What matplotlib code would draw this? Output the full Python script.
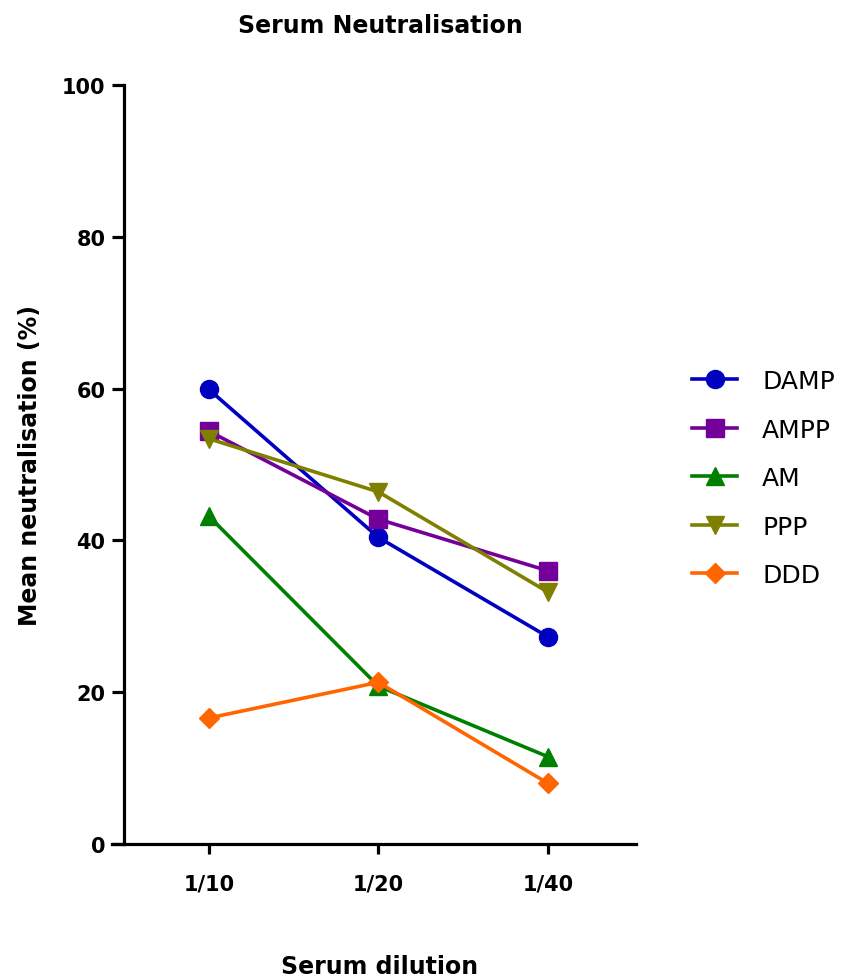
"""Serum neutralisation line chart (GraphPad-style)."""

import matplotlib

matplotlib.use("Agg")
import matplotlib.pyplot as plt

dilutions = ["1/10", "1/20", "1/40"]

damp = [59.9, 40.4, 27.3]
ampp = [54.4, 42.8, 36.0]
am = [43.2, 20.8, 11.5]
ppp = [53.4, 46.4, 33.2]
ddd = [16.6, 21.3, 8.0]

series_names = ["DAMP", "AMPP", "AM", "PPP", "DDD"]
series_values = [damp, ampp, am, ppp, ddd]
series_colors = ["#0000c0", "#730099", "#008000", "#808000", "#ff6600"]
series_markers = ["o", "s", "^", "v", "D"]
marker_sizes = [13, 12.5, 13, 13, 10]

y_ticks = [0, 20, 40, 60, 80, 100]

plt.rcParams["font.family"] = ["DejaVu Sans"]

fig = plt.figure(figsize=(8.62, 9.78), dpi=100)
ax = fig.add_axes([0.1439, 0.136, 0.594, 0.776])

x = list(range(len(dilutions)))
for name, vals, color, marker, ms in zip(
    series_names, series_values, series_colors, series_markers, marker_sizes
):
    ax.plot(
        x,
        vals,
        color=color,
        marker=marker,
        markersize=ms,
        linewidth=2.6,
        label=name,
        clip_on=False,
    )

ax.set_xlim(-0.5, 2.52)
ax.set_ylim(0, 100)
ax.set_xticks(x)
ax.set_xticklabels(dilutions)
ax.set_yticks(y_ticks)

for side in ("top", "right"):
    ax.spines[side].set_visible(False)
for side in ("left", "bottom"):
    ax.spines[side].set_linewidth(2.3)
ax.spines["bottom"].set_bounds(-0.57, 2.52)

ax.tick_params(axis="y", direction="out", length=8.5, width=2.3, pad=5, labelsize=15)
ax.tick_params(axis="x", direction="out", length=7, width=2.3, pad=14, labelsize=15)
for lbl in ax.get_xticklabels() + ax.get_yticklabels():
    lbl.set_fontweight("bold")

ax.set_title("Serum Neutralisation", fontsize=17, fontweight="bold", pad=38)
ax.set_xlabel("Serum dilution", fontsize=17, fontweight="bold", labelpad=44)
ax.set_ylabel("Mean neutralisation (%)", fontsize=17, fontweight="bold", labelpad=14)

ax.legend(
    loc="center left",
    bbox_to_anchor=(0.803, 0.51),
    bbox_transform=fig.transFigure,
    frameon=False,
    fontsize=18,
    handlelength=1.8,
    handletextpad=1.0,
    labelspacing=0.98,
    borderpad=0,
    borderaxespad=0,
)

fig.savefig("out.png", dpi=100)
plt.close(fig)
